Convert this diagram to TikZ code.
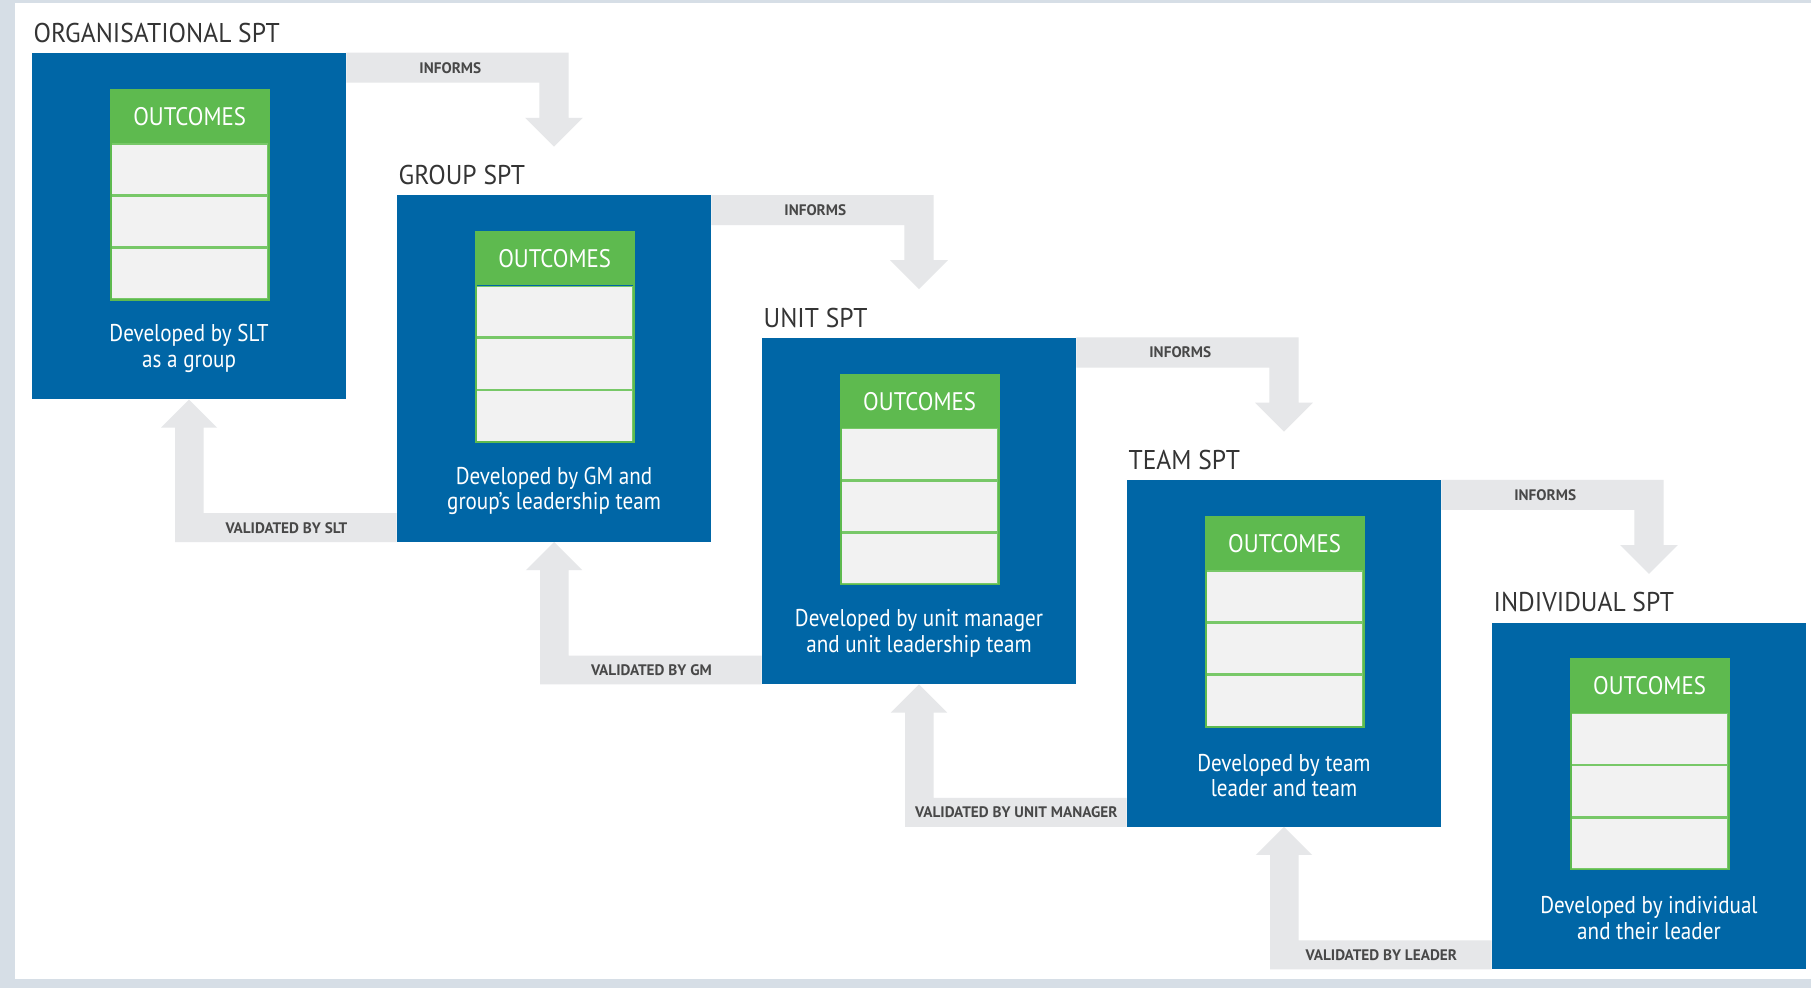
\documentclass[tikz,border=0pt]{standalone}
\usepackage{fontspec}
\setmainfont{PT Sans}
\newfontfamily\titlefont{PT Sans}[FakeStretch=0.94]
\newfontfamily\hdrfont{PT Sans}[FakeStretch=0.9]
\newfontfamily\descfont{PT Sans}[FakeStretch=0.87]
\usetikzlibrary{calc}
\definecolor{boxblue}{RGB}{0,102,166}
\definecolor{hdrgreen}{RGB}{94,186,79}
\definecolor{rowgrey}{RGB}{242,242,242}
\definecolor{rowline}{RGB}{120,200,104}
\definecolor{arrowgrey}{RGB}{230,231,233}
\definecolor{labelgrey}{RGB}{72,72,72}
\definecolor{titlegrey}{RGB}{52,52,52}
\definecolor{bgblur}{RGB}{214,222,230}
\begin{document}
\begin{tikzpicture}[x=1pt,y=-1pt,
  spbox/.style={fill=boxblue, minimum width=272pt, minimum height=300pt, inner sep=0pt, anchor=north west},
  sptitle/.style={text=titlegrey, font=\titlefont\fontsize{23.5}{27}\selectfont, inner sep=0pt, anchor=base west},
  hdr/.style={fill=hdrgreen, minimum width=136pt, minimum height=46pt, inner sep=0pt, anchor=north west, text=white, font=\hdrfont\fontsize{22}{26}\selectfont},
  outrow/.style={fill=rowgrey, draw=rowline, line width=1.2pt, minimum width=136pt, minimum height=44pt, inner sep=0pt, anchor=north},
  devtext/.style={text=white, align=center, font=\descfont\fontsize{21}{22}\selectfont, inner sep=0pt},
  arr/.style={fill=arrowgrey},
  arrlabel/.style={text=labelgrey, font=\bfseries\fontsize{13.2}{15}\selectfont, inner sep=0pt}
]
\useasboundingbox (0,0) rectangle (1568,855);
\fill[bgblur] (0,0) rectangle (1568,855);
\fill[white] (13,2.6) rectangle (1568,847.7);

\foreach \i/\ttl/\dA/\dB in {
  1/ORGANISATIONAL SPT/Developed by SLT/as a group,
  2/GROUP SPT/Developed by GM and/group’s leadership team,
  3/UNIT SPT/Developed by unit manager/and unit leadership team,
  4/TEAM SPT/Developed by team/leader and team,
  5/INDIVIDUAL SPT/Developed by individual/and their leader}{
  \pgfmathsetmacro{\X}{27.5+316*(\i-1)}
  \pgfmathsetmacro{\Y}{45.6+123.3*(\i-1)}
  \node[spbox] (b\i) at (\X,\Y) {};
  \node[sptitle] (t\i) at ($(b\i.north west)+(1.5,-9)$) {\ttl};
  \node[hdr] (h\i) at ($(b\i.north west)+(68.5,32)$) {OUTCOMES};
  \node[outrow] (r\i a) at (h\i.south) {};
  \node[outrow] (r\i b) at (r\i a.south) {};
  \node[outrow] (r\i c) at (r\i b.south) {};
  \draw[hdrgreen, line width=1.4pt] (h\i.north west) rectangle (r\i c.south east);
  \node[devtext] (d\i) at ($(b\i.north)+(0,256)$) {\dA\\\dB};
}

% INFORMS arrows
\foreach \a/\b in {1/2,2/3,3/4,4/5}{
  \coordinate (f\a) at (b\b.north |- b\a.north);
  \fill[arr] (b\a.north east) -- ($(f\a)+(12.6,0)$) -- ($(f\a)+(12.6,56.4)$)
    -- ($(f\a)+(25,56.4)$) -- ($(f\a)+(0,81.4)$) -- ($(f\a)+(-25,56.4)$)
    -- ($(f\a)+(-12.6,56.4)$) -- ($(f\a)+(-12.6,26)$) -- ($(b\a.north east)+(0,26)$) -- cycle;
  \node[arrlabel] (inf\a) at ($(b\a.north east)+(90,13)$) {INFORMS};
}

% VALIDATED arrows
\foreach \a/\b/\lab in {1/2/VALIDATED BY SLT,2/3/VALIDATED BY GM,3/4/VALIDATED BY UNIT MANAGER,4/5/VALIDATED BY LEADER}{
  \coordinate (v\a) at (b\a.south |- b\b.south);
  \fill[arr] (b\b.south west) -- ($(b\b.south west)+(0,-25)$) -- ($(v\a)+(12.6,-25)$)
    -- ($(b\a.south)+(12.6,24.3)$) -- ($(b\a.south)+(24.3,24.3)$) -- (b\a.south)
    -- ($(b\a.south)+(-24.3,24.3)$) -- ($(b\a.south)+(-12,24.3)$) -- ($(v\a)+(-12,0)$) -- cycle;
  \node[arrlabel] (val\a) at ($(b\b.south west)+(-95.5,-12.3)$) {\lab};
}
\end{tikzpicture}
\end{document}
